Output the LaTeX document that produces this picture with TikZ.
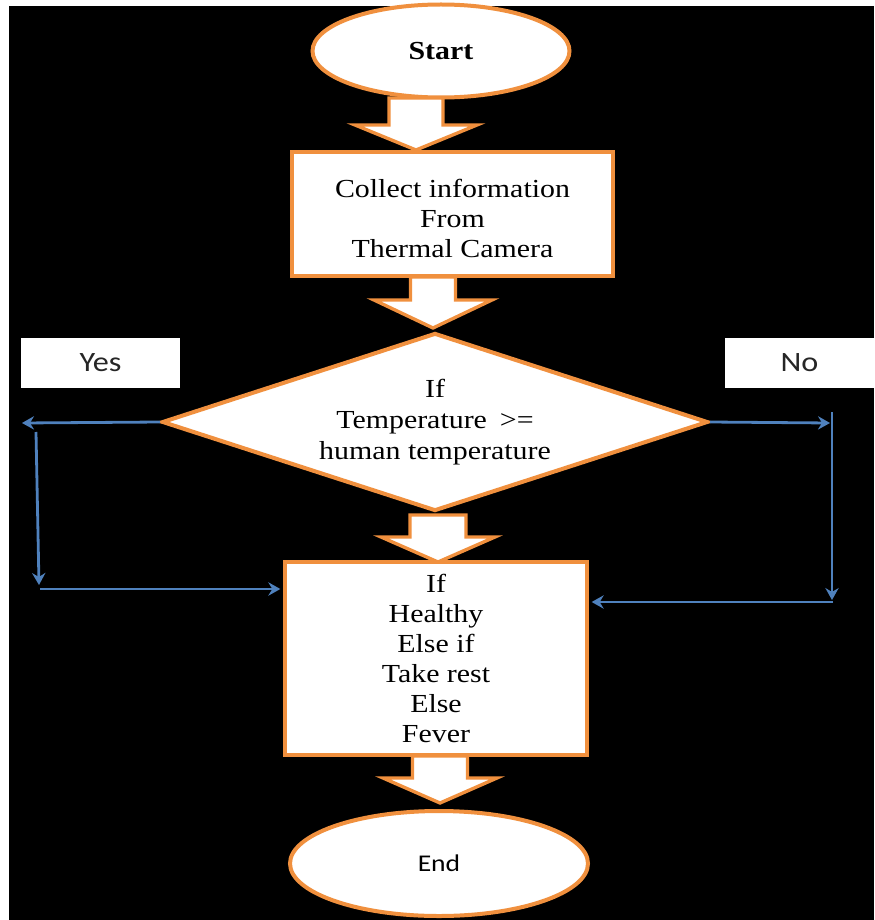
\documentclass[tikz,border=0pt]{standalone}
\usepackage{fontspec}
\newfontfamily\flowserif{Liberation Serif}[FakeStretch=1.15]
\newfontfamily\flowsans{Carlito}[FakeStretch=1.15]
\usetikzlibrary{shapes.geometric, arrows.meta}
\definecolor{flowOrange}{HTML}{F0903E}
\definecolor{flowBlue}{HTML}{4F81BD}
\definecolor{labelGray}{HTML}{262626}

% block arrow: x, top, head top, tip, shaft half width, head half width
\newcommand{\downblock}[6]{%
  \draw[bigarrow] (#1-#5,#2) -- (#1+#5,#2) -- (#1+#5,#3) -- (#1+#6,#3) -- (#1,#4) -- (#1-#6,#3) -- (#1-#5,#3) -- cycle;}

\begin{document}
\begin{tikzpicture}[x=0.75pt,y=0.75pt,yscale=-1,xscale=1,
                    every node/.style={font=\flowserif\fontsize{19.5}{22.5}\selectfont, align=center},
                    shapebox/.style={draw=flowOrange, fill=white, line width=3pt, inner sep=0pt},
                    labelbox/.style={fill=white, inner sep=0pt, text=labelGray,
                                     font=\flowsans\fontsize{21}{25}\selectfont},
                    flowline/.style={draw=flowBlue, line width=2.1pt,
                                     -{Stealth[length=9pt,width=10pt,inset=3pt]}},
                    bigarrow/.style={draw=flowOrange, fill=white, line width=2.5pt, line join=miter}]
\useasboundingbox (0,0) rectangle (874,920);
%Background
\fill[white] (0,0) rectangle (874,920);
\fill[black] (9,6) rectangle (874,920);

%Shape: Ellipse [start]
\node[shapebox, ellipse, minimum width=192.75pt, minimum height=69.75pt] (start) at (441,51) {\bfseries Start};
%Shape: Rectangle [collect]
\node[shapebox, rectangle, minimum width=240.75pt, minimum height=92.25pt] (collect) at (452.5,214) {};
% Text Node
\node (collecttext) at (452.5,218) {Collect information\\From\\Thermal Camera};
%Shape: Diamond [decide]
\node[shapebox, diamond, aspect=3.07, minimum width=409.5pt, minimum height=133.5pt,
      font=\flowserif\fontsize{19.5}{23.25}\selectfont] (decide) at (435,422)
  {If\\Temperature\enspace{}>=\\human temperature};
%Shape: Rectangle [check]
\node[shapebox, rectangle, minimum width=226.5pt, minimum height=144.75pt] (check) at (436,658.5)
  {If\\Healthy\\Else if\\Take rest\\Else\\Fever};
%Shape: Ellipse [finish]
\node[shapebox, ellipse, minimum width=223.5pt, minimum height=78.75pt,
      font=\flowsans\fontsize{18}{22}\selectfont] (finish) at (439,863.5) {End};

% Text Node
\node[labelbox, minimum width=119.25pt, minimum height=37.5pt] (yes) at (100.5,363) {Yes};
% Text Node
\node[labelbox, minimum width=111.75pt, minimum height=37.5pt] (no) at (799.5,363) {No};

%Block arrows
\downblock{416}{98}{125}{150}{27}{61}
\downblock{433}{277}{300}{328}{22.5}{59}
\downblock{438}{515}{537}{562}{28}{57}
\downblock{440}{756}{778}{803}{27.5}{57}

%Straight Lines [yes branch]
\coordinate (yesTip) at (22,423);
\coordinate (yesTop) at (36,432);
\coordinate (yesBot) at (39,585);
\coordinate (yesRun) at (40,589);
\draw[flowline] (decide.west) -- (yesTip);
\draw[flowline] (yesTop) -- (yesBot);
\draw[flowline, shorten >=2pt] (yesRun) -- (yesRun -| check.west);

%Straight Lines [no branch]
\coordinate (noTip) at (830,423);
\coordinate (noTop) at (832,412);
\coordinate (noBot) at (832,600);
\coordinate (noRun) at (833,602);
\draw[flowline] (decide.east) -- (noTip);
\draw[flowline] (noTop) -- (noBot);
\draw[flowline, shorten >=2pt] (noRun) -- (noRun -| check.east);

\end{tikzpicture}
\end{document}
